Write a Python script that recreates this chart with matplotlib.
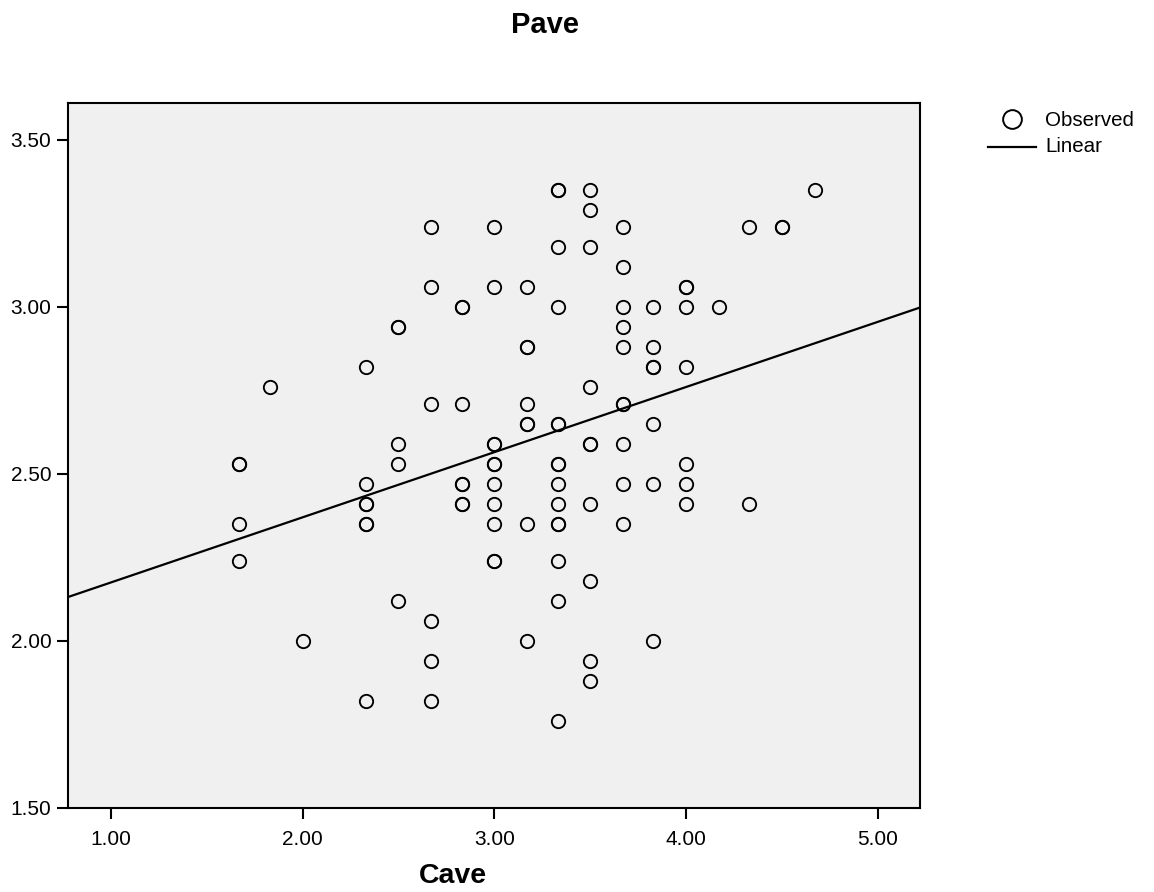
import matplotlib

matplotlib.use("Agg")
import matplotlib.pyplot as plt
from matplotlib.lines import Line2D

plt.rcParams["font.family"] = ["Liberation Sans", "DejaVu Sans"]

# Observed points: Cave (x) against Pave (y)
cave = [
    1.67, 1.67, 1.67, 1.67,
    1.83,
    2.00,
    2.33, 2.33, 2.33, 2.33, 2.33, 2.33, 2.33,
    2.50, 2.50, 2.50, 2.50, 2.50,
    2.67, 2.67, 2.67, 2.67, 2.67, 2.67,
    2.83, 2.83, 2.83, 2.83, 2.83, 2.83, 2.83,
    3.00, 3.00, 3.00, 3.00, 3.00, 3.00, 3.00, 3.00, 3.00, 3.00, 3.00,
    3.17, 3.17, 3.17, 3.17, 3.17, 3.17, 3.17, 3.17,
    3.33, 3.33, 3.33, 3.33, 3.33, 3.33, 3.33, 3.33, 3.33, 3.33, 3.33,
    3.33, 3.33, 3.33, 3.33,
    3.50, 3.50, 3.50, 3.50, 3.50, 3.50, 3.50, 3.50, 3.50, 3.50,
    3.67, 3.67, 3.67, 3.67, 3.67, 3.67, 3.67, 3.67, 3.67, 3.67,
    3.83, 3.83, 3.83, 3.83, 3.83, 3.83, 3.83,
    4.00, 4.00, 4.00, 4.00, 4.00, 4.00, 4.00,
    4.17,
    4.33, 4.33,
    4.50, 4.50,
    4.67,
]
pave = [
    2.53, 2.53, 2.35, 2.24,
    2.76,
    2.00,
    2.82, 2.47, 2.41, 2.41, 2.35, 2.35, 1.82,
    2.94, 2.94, 2.59, 2.53, 2.12,
    3.24, 3.06, 2.71, 2.06, 1.94, 1.82,
    3.00, 3.00, 2.71, 2.47, 2.47, 2.41, 2.41,
    3.24, 3.06, 2.59, 2.59, 2.53, 2.53, 2.47, 2.41, 2.35, 2.24, 2.24,
    3.06, 2.88, 2.88, 2.71, 2.65, 2.65, 2.35, 2.00,
    3.35, 3.35, 3.18, 3.00, 2.65, 2.65, 2.53, 2.53, 2.47, 2.41, 2.35,
    2.35, 2.24, 2.12, 1.76,
    3.35, 3.29, 3.18, 2.76, 2.59, 2.59, 2.41, 2.18, 1.94, 1.88,
    3.24, 3.12, 3.00, 2.94, 2.88, 2.71, 2.71, 2.59, 2.47, 2.35,
    3.00, 2.88, 2.82, 2.82, 2.65, 2.47, 2.00,
    3.06, 3.06, 3.00, 2.82, 2.53, 2.47, 2.41,
    3.00,
    3.24, 2.41,
    3.24, 3.24,
    3.35,
]

# Linear fit as drawn in the reference
fit_intercept = 1.98
fit_slope = 0.195

x_limits = (0.776, 5.22)
y_limits = (1.50, 3.61)
x_ticks = [1.0, 2.0, 3.0, 4.0, 5.0]
y_ticks = [1.5, 2.0, 2.5, 3.0, 3.5]

figure = plt.figure(figsize=(11.54, 8.92), dpi=100)
axis = figure.add_axes([0.0589, 0.0942, 0.7383, 0.7903])
axis.set_facecolor("#f0f0f0")

axis.plot(
    cave,
    pave,
    linestyle="none",
    marker="o",
    markersize=9.6,
    markerfacecolor="none",
    markeredgecolor="black",
    markeredgewidth=1.35,
    zorder=3,
)

fit_x = list(x_limits)
fit_y = [fit_intercept + fit_slope * value for value in fit_x]
axis.plot(fit_x, fit_y, color="black", linewidth=1.6, zorder=2)

axis.set_xlim(*x_limits)
axis.set_ylim(*y_limits)
axis.set_xticks(x_ticks)
axis.set_yticks(y_ticks)
axis.set_xticklabels([f"{value:.2f}" for value in x_ticks])
axis.set_yticklabels([f"{value:.2f}" for value in y_ticks])
axis.tick_params(direction="out", length=8, width=1.5, labelsize=15,
                 colors="black")
axis.tick_params(axis="x", pad=8)
axis.tick_params(axis="y", pad=4)
for spine in axis.spines.values():
    spine.set_linewidth(1.5)

# title positions taken from zoomed crops of the reference
axis.set_xlabel("Cave", fontsize=20.5, fontweight="bold", va="center",
                ha="center")
axis.xaxis.set_label_coords((453 - 68) / 852, (808 - 876) / 705)
figure.text(545 / 1154, 1 - 25 / 892, "Pave", fontsize=21,
            fontweight="bold", ha="center", va="center")

# legend drawn by hand to match the SPSS layout
figure.add_artist(Line2D([1012 / 1154], [1 - 119 / 892], linestyle="none",
                         marker="o", markersize=13.5, markerfacecolor="none",
                         markeredgecolor="black", markeredgewidth=1.4))
figure.add_artist(Line2D([988 / 1154, 1036 / 1154], [1 - 147 / 892] * 2,
                         color="black", linewidth=1.6))
figure.text(1045 / 1154, 1 - 120 / 892, "Observed", fontsize=14.8,
            ha="left", va="center")
figure.text(1045 / 1154, 1 - 147 / 892, "Linear", fontsize=14.8,
            ha="left", va="center")

figure.savefig("out.png", dpi=100)
plt.close(figure)
